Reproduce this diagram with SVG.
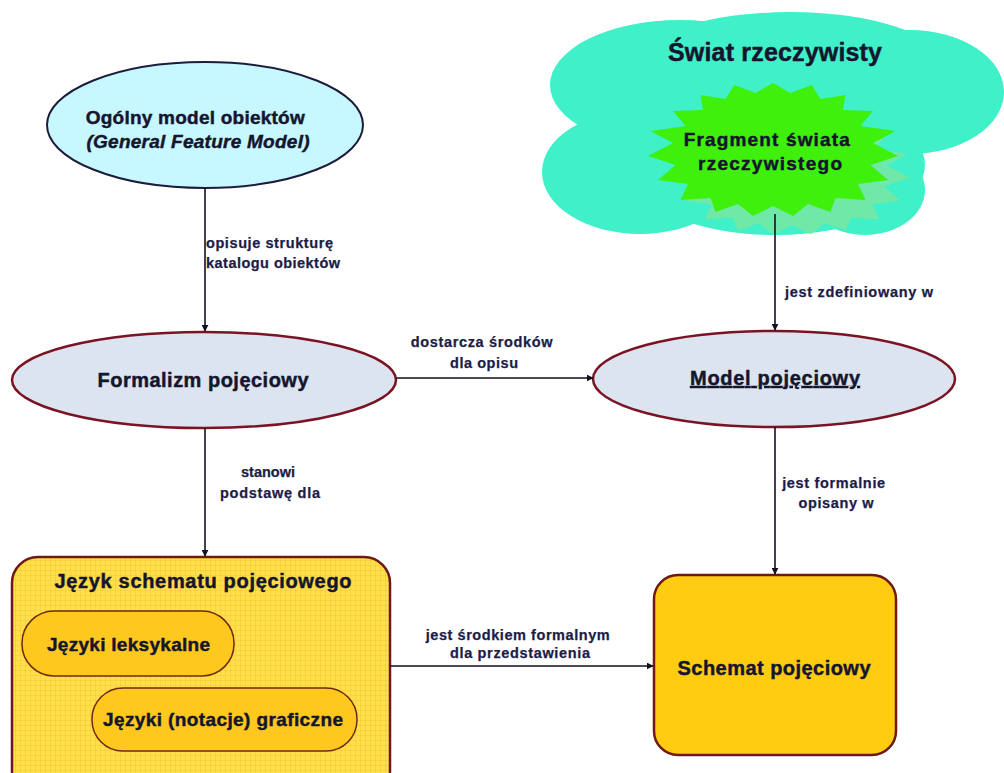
<svg xmlns="http://www.w3.org/2000/svg" width="1004" height="773" viewBox="0 0 1004 773">
  <style>
    .node-text { font-family: "Liberation Sans", Arial, sans-serif; font-weight: bold; fill: #15152e; stroke: #15152e; stroke-width: 0.45; }
    .lbl { font-family: "Liberation Sans", Arial, sans-serif; font-weight: bold; font-size: 14.5px; fill: #1c1c48; stroke: #1c1c48; stroke-width: 0.25; }
    .conn { stroke: #111122; stroke-width: 1.6; fill: none; marker-end: url(#arrow); }
    .oval { fill: #dce5ef; stroke: #7a1424; stroke-width: 2.5; }
    .pill { fill: #ffc81e; stroke: #6e2a10; stroke-width: 1.5; }
  </style>
  <defs>
    <marker id="arrow" viewBox="0 0 10 10" refX="9" refY="5" markerWidth="7" markerHeight="7" orient="auto" markerUnits="userSpaceOnUse">
      <path d="M0,0 L10,5 L0,10 z" fill="#111122" stroke="none"/>
    </marker>
    <pattern id="grid" width="5" height="5" patternUnits="userSpaceOnUse">
      <rect width="5" height="5" fill="#ffe04a"/>
      <path d="M0,0 H5 M0,0 V5" stroke="#f2c234" stroke-width="0.8"/>
    </pattern>
    <polygon id="burst"
      points="0,-65 14,-55 31,-63 38,-49 58,-53 56,-38 80,-37 70,-22 98,-17 80,-5 100,8 78,17 92,32 68,36 74,52 50,50 46,64 28,56 16,68 0,58 -16,68 -28,56 -46,64 -50,50 -74,52 -68,36 -92,32 -78,17 -100,8 -80,-5 -98,-17 -70,-22 -80,-37 -56,-38 -58,-53 -38,-49 -31,-63 -14,-55"/>
  </defs>

  <rect width="1004" height="773" fill="#ffffff"/>

  <!-- real world cloud -->
  <g id="swiat">
    <g fill="#3ff0c8">
      <ellipse cx="680" cy="85" rx="130" ry="65"/>
      <ellipse cx="790" cy="62" rx="150" ry="50"/>
      <ellipse cx="910" cy="92" rx="94" ry="62"/>
      <ellipse cx="640" cy="172" rx="98" ry="62"/>
      <ellipse cx="775" cy="165" rx="150" ry="70"/>
      <ellipse cx="865" cy="190" rx="60" ry="45"/>
    </g>
    <text class="node-text" x="775" y="61" font-size="25" text-anchor="middle" textLength="214" lengthAdjust="spacing">Świat rzeczywisty</text>
  </g>

  <!-- fragment of the real world (starburst with soft shadow) -->
  <g id="fragment">
    <use href="#burst" fill="#7ce6a0" opacity="0.8" transform="translate(792,170) scale(1.18,0.95)"/>
    <use href="#burst" fill="#3ef00c" transform="translate(773,148) scale(1.25,1.0)"/>
    <text class="node-text" font-size="19" text-anchor="middle">
      <tspan x="770" y="146" textLength="166" lengthAdjust="spacing">Fragment świata</tspan>
      <tspan x="770" y="170" textLength="144" lengthAdjust="spacing">rzeczywistego</tspan>
    </text>
  </g>

  <!-- general feature model -->
  <g id="ogolny">
    <ellipse cx="205" cy="125" rx="158" ry="63" fill="#c8f8ff" stroke="#1c1c3c" stroke-width="2"/>
    <text class="node-text" font-size="19" text-anchor="middle">
      <tspan x="198" y="124" textLength="219" lengthAdjust="spacing">Ogólny model obiektów</tspan>
      <tspan x="198" y="148" font-style="italic" textLength="223" lengthAdjust="spacing">(General Feature Model)</tspan>
    </text>
  </g>

  <!-- conceptual formalism -->
  <g id="formalizm">
    <ellipse class="oval" cx="204" cy="380" rx="192" ry="48"/>
    <text class="node-text" x="203" y="387" font-size="20" text-anchor="middle" textLength="211" lengthAdjust="spacing">Formalizm pojęciowy</text>
  </g>

  <!-- conceptual model -->
  <g id="model">
    <ellipse class="oval" cx="774" cy="379" rx="181" ry="48"/>
    <text class="node-text" x="775" y="385" font-size="20" text-anchor="middle" text-decoration="underline" textLength="170" lengthAdjust="spacing">Model pojęciowy</text>
  </g>

  <!-- conceptual schema language -->
  <g id="jezyk">
    <rect x="12" y="557" width="378" height="240" rx="26" fill="url(#grid)" stroke="#6e1a14" stroke-width="2.5"/>
    <text class="node-text" x="203" y="588" font-size="20" text-anchor="middle" textLength="297" lengthAdjust="spacing">Język schematu pojęciowego</text>
    <rect class="pill" x="22" y="611" width="212" height="65" rx="32"/>
    <text class="node-text" x="47" y="651" font-size="19" textLength="163" lengthAdjust="spacing">Języki leksykalne</text>
    <rect class="pill" x="92" y="688" width="265" height="63" rx="31"/>
    <text class="node-text" x="223" y="726" font-size="19" text-anchor="middle" textLength="240" lengthAdjust="spacing">Języki (notacje) graficzne</text>
  </g>

  <!-- conceptual schema -->
  <g id="schemat">
    <rect x="654" y="575" width="242" height="180" rx="24" fill="#ffcc12" stroke="#6e1a14" stroke-width="2.5"/>
    <text class="node-text" x="774" y="675" font-size="20" text-anchor="middle" textLength="193" lengthAdjust="spacing">Schemat pojęciowy</text>
  </g>

  <!-- connectors -->
  <g id="connectors">
    <line class="conn" x1="205" y1="188" x2="205" y2="331" stroke-width="2.2"/>
    <line class="conn" x1="775" y1="214" x2="775" y2="330"/>
    <line class="conn" x1="396" y1="378" x2="593" y2="378"/>
    <line class="conn" x1="205" y1="428" x2="205" y2="556"/>
    <line class="conn" x1="775" y1="427" x2="775" y2="574"/>
    <line class="conn" x1="390" y1="666" x2="653" y2="666"/>

    <text class="lbl">
      <tspan x="206" y="248" textLength="127" lengthAdjust="spacing">opisuje strukturę</tspan>
      <tspan x="206" y="268" textLength="134" lengthAdjust="spacing">katalogu obiektów</tspan>
    </text>
    <text class="lbl" x="785" y="297" textLength="148" lengthAdjust="spacing">jest zdefiniowany w</text>
    <text class="lbl" text-anchor="middle">
      <tspan x="484" y="347" textLength="142" lengthAdjust="spacing">dostarcza środków</tspan>
      <tspan x="484" y="368" textLength="68" lengthAdjust="spacing">dla opisu</tspan>
    </text>
    <text class="lbl" text-anchor="middle">
      <tspan x="270" y="477" textLength="54" lengthAdjust="spacing">stanowi</tspan>
      <tspan x="270" y="498" textLength="100" lengthAdjust="spacing">podstawę dla</tspan>
    </text>
    <text class="lbl" text-anchor="middle">
      <tspan x="836" y="488" textLength="103" lengthAdjust="spacing">jest formalnie</tspan>
      <tspan x="836" y="508" textLength="75" lengthAdjust="spacing">opisany w</tspan>
    </text>
    <text class="lbl" text-anchor="middle">
      <tspan x="520" y="640" textLength="184" lengthAdjust="spacing">jest środkiem formalnym</tspan>
      <tspan x="520" y="658" textLength="140" lengthAdjust="spacing">dla przedstawienia</tspan>
    </text>
  </g>
</svg>
